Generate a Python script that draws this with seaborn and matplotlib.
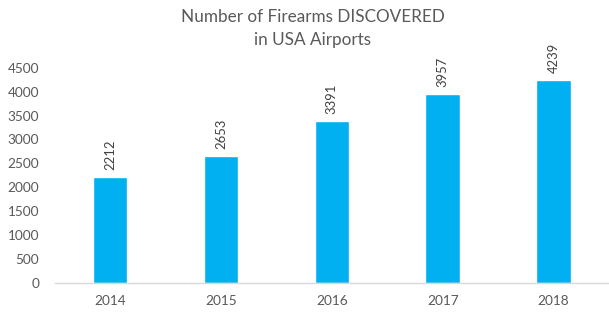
import matplotlib
matplotlib.use("Agg")
import matplotlib.pyplot as plt
import seaborn as sns
import pandas as pd

years = ["2014", "2015", "2016", "2017", "2018"]
firearms = [2212, 2653, 3391, 3957, 4239]
yticks = [0, 500, 1000, 1500, 2000, 2500, 3000, 3500, 4000, 4500]
title = "Number of Firearms DISCOVERED\nin USA Airports"

sns.set_theme(style="white")
plt.rcParams['font.family'] = ['Lato', 'DejaVu Sans']

df = pd.DataFrame({"year": years, "count": firearms})

fig = plt.figure(figsize=(6.09, 3.12), dpi=100)
ax = fig.add_axes([54.6 / 609, 29.3 / 312, (609 - 54.6) / 609, (282.7 - 67.8) / 312])
sns.barplot(data=df, x="year", y="count", color="#00B0F0", saturation=1,
            width=0.31, ax=ax)

ax.set_ylim(0, 4500)
ax.set_xlim(-0.5, 4.5)
ax.set_yticks(yticks)
ax.set_xlabel("")
ax.set_ylabel("")
for s in ["top", "right", "left"]:
    ax.spines[s].set_visible(False)
ax.spines["bottom"].set_color("#D9D9D9")
ax.spines["bottom"].set_linewidth(1)
ax.tick_params(axis="y", length=0, pad=11, labelsize=9.8, labelcolor="#595959")
ax.tick_params(axis="x", length=0, pad=9, labelsize=9.8, labelcolor="#595959")

for i, v in enumerate(firearms):
    ax.annotate(str(v), (i, v), xytext=(0, 5), textcoords="offset points",
                rotation=90, ha="center", va="bottom", fontsize=9.4,
                color="#404040", annotation_clip=False)

fig.text(313 / 609, 1 - 28.5 / 312, title, ha="center", va="center",
         fontsize=12.3, color="#595959", linespacing=1.5)

fig.savefig("out.png", dpi=100)
